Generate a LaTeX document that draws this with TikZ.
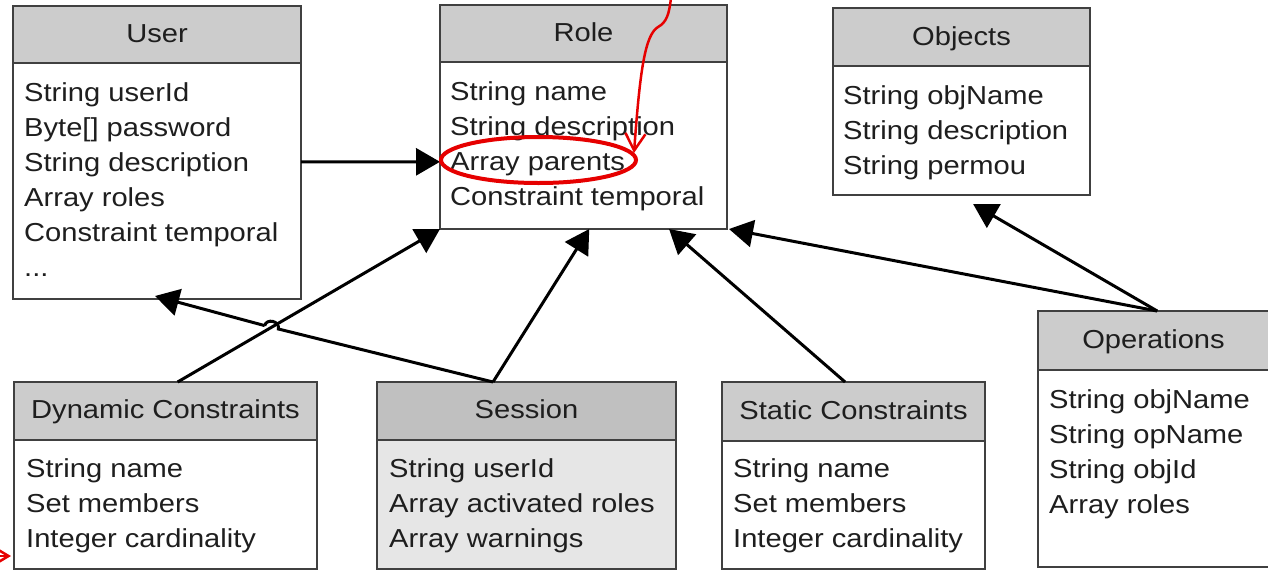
\documentclass[tikz,border=0pt]{standalone}
\usepackage{fontspec}
\setmainfont{Liberation Sans}[FakeStretch=1.12]
\usetikzlibrary{arrows.meta,calc,intersections}
\definecolor{hd}{HTML}{CCCCCC}
\definecolor{hdS}{HTML}{C0C0C0}
\definecolor{bdS}{HTML}{E6E6E6}
\definecolor{bord}{HTML}{404040}
\definecolor{txt}{HTML}{1E1E1E}
\definecolor{annot}{HTML}{E60000}
\tikzset{
  box/.style={draw=bord, line width=2.5pt, anchor=north west, inner sep=0pt, outer sep=0pt},
  lbl/.style={font=\fontsize{26}{35}\selectfont, text=txt, inner sep=0pt, anchor=base west},
  ttl/.style={font=\fontsize{26}{35}\selectfont, text=txt, inner sep=0pt, anchor=base},
  conn/.style={line width=3pt, draw=black, -{Triangle[length=24pt,width=27pt]}},
  hopline/.style={line width=3pt, draw=black},
  redmark/.style={draw=annot, line width=2.5pt},
}
\newcommand\klass[8]{%
  \node[box, fill=#8, minimum width={#4-#2}, minimum height={#6-#3}] (#1) at (#2,#3) {};
  \node[box, fill=#7, minimum width={#4-#2}, minimum height={#5-#3}] (#1-h) at (#2,#3) {};
}
\begin{document}
\begin{tikzpicture}[x=1pt,y=-1pt]
\useasboundingbox (0,0) rectangle (1268,571);
% boxes
\klass{user}{13}{6}{301}{63}{299}{hd}{white}
\klass{role}{440}{5}{727}{62}{229}{hd}{white}
\klass{obj}{833}{8}{1090}{66}{195}{hd}{white}
\klass{dyn}{14}{382}{317}{440}{569}{hd}{white}
\klass{sess}{377}{382}{676}{440}{569}{hdS}{bdS}
\klass{stat}{722}{382}{985}{441}{569}{hd}{white}
\klass{ops}{1038}{311}{1290}{370}{567}{hd}{white}
% titles
\node[ttl] (user-t) at (157,42) {User};
\node[ttl] (role-t) at (583.5,41) {Role};
\node[ttl] (obj-t) at (961.5,45) {Objects};
\node[ttl] (dyn-t) at (165.5,418) {Dynamic Constraints};
\node[ttl] (sess-t) at (526.5,418) {Session};
\node[ttl] (stat-t) at (853.5,419) {Static Constraints};
\node[ttl] (ops-t) at (1153.5,348) {Operations};
% attributes
\node[lbl] (user-1) at (24,101) {String userId};
\node[lbl] (user-2) at (24,136) {Byte[] password};
\node[lbl] (user-3) at (24,171) {String description};
\node[lbl] (user-4) at (24,206) {Array roles};
\node[lbl] (user-5) at (24,241) {Constraint temporal};
\node[lbl] (user-6) at (24,276) {...};
\foreach \s [count=\i] in {String name,String description,Array parents,Constraint temporal}
  \node[lbl] (role-\i) at (450,{100+35*(\i-1)}) {\s};
\foreach \s [count=\i] in {String objName,String description,String permou}
  \node[lbl] (obj-\i) at (843,{104+35*(\i-1)}) {\s};
\foreach \s [count=\i] in {String name,Set members,Integer cardinality}
  \node[lbl] (dyn-\i) at (26,{477+35*(\i-1)}) {\s};
\foreach \s [count=\i] in {String userId,Array activated roles,Array warnings}
  \node[lbl] (sess-\i) at (389,{477+35*(\i-1)}) {\s};
\foreach \s [count=\i] in {String name,Set members,Integer cardinality}
  \node[lbl] (stat-\i) at (733,{477+35*(\i-1)}) {\s};
\foreach \s [count=\i] in {String objName,String opName,String objId,Array roles}
  \node[lbl] (ops-\i) at (1049,{408+35*(\i-1)}) {\s};
% connectors
\draw[conn] ($(user.north east)!0.532!(user.south east)$) -- ($(role.north west)!0.70!(role.south west)$);
\coordinate (dA) at ($(dyn.north west)!0.54!(dyn.north east)$);
\coordinate (sA) at ($(sess.north west)!0.388!(sess.north east)$);
\coordinate (stA) at ($(stat.north west)!0.468!(stat.north east)$);
\coordinate (oA) at ($(ops.north west)!0.473!(ops.north east)$);
\draw[conn] (dA) -- (role.south west);
\draw[conn] (sA) -- ($(role.south west)!0.52!(role.south east)$);
\draw[conn] (stA) -- ($(role.south west)!0.798!(role.south east)$);
\draw[conn] (oA) -- ($(role.south east)+(2,0)$);
\draw[conn] (oA) -- ($(obj.south west)!0.545!(obj.south east)+(0,9)$);
\path[name path=pA] (dA) -- (role.south west);
\path[name path=pB] (sA) -- (user.south);
\path[name intersections={of=pA and pB, by=X}];
\coordinate (h1) at ($(X)!7pt!(sA)$);
\coordinate (h2) at ($(X)!7pt!(user.south)$);
\draw[hopline] (sA) -- (h1) .. controls ($(h1)!8pt!-90:(X)$) and ($(h2)!8pt!90:(X)$) .. (h2);
\draw[conn] (h2) -- ($(user.south)+(-2,-3)$);
% red annotations
\draw[annot, line width=4pt] (538.5,160) ellipse [x radius=97.5, y radius=23];
\draw[redmark, -{Straight Barb[length=17pt,width=20pt]}] (671,-2) .. controls (669,14) and (667,22) .. (658,27) .. controls (645,35) and (640,70) .. (634,153);
\draw[redmark, -{Straight Barb[length=10pt,width=12pt]}] (-6,556) -- (11,556);
\end{tikzpicture}
\end{document}
